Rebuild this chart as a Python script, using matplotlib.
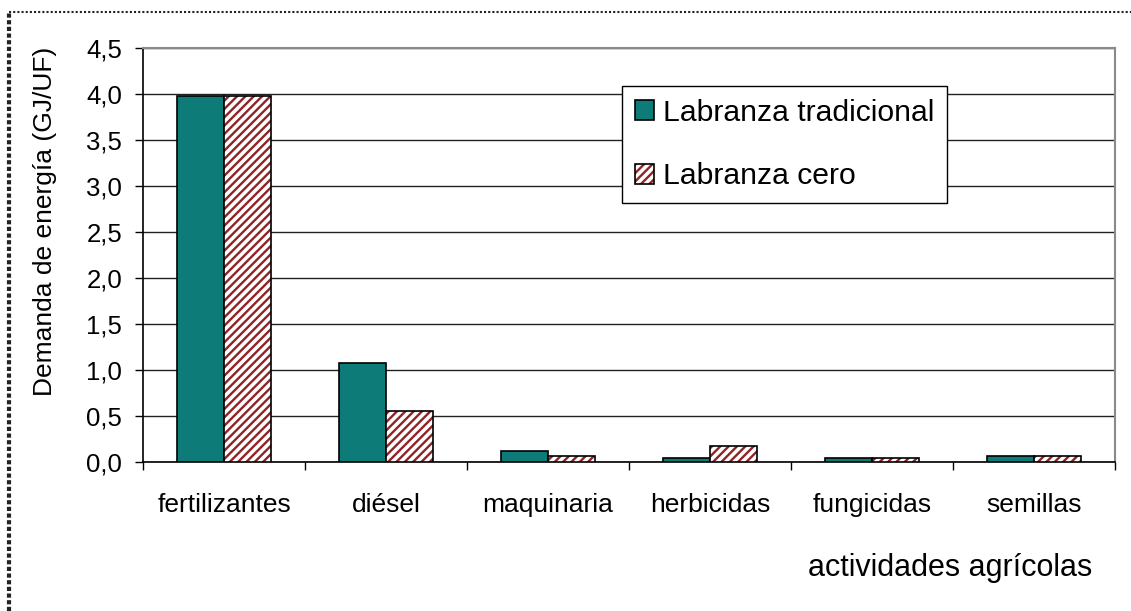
import numpy as np
import matplotlib
matplotlib.use("Agg")
import matplotlib.pyplot as plt
from matplotlib.lines import Line2D
from matplotlib.patches import Patch
from matplotlib.legend_handler import HandlerTuple

plt.rcParams['font.family'] = ['Liberation Sans', 'DejaVu Sans']
plt.rcParams['hatch.linewidth'] = 1.7

categorias = ['fertilizantes', 'diésel', 'maquinaria', 'herbicidas', 'fungicidas', 'semillas']
tradicional = [3.98, 1.08, 0.12, 0.05, 0.05, 0.07]
cero = [3.98, 0.56, 0.07, 0.18, 0.05, 0.07]
series = ['Labranza tradicional', 'Labranza cero']
yticks = [0.0, 0.5, 1.0, 1.5, 2.0, 2.5, 3.0, 3.5, 4.0, 4.5]

teal = '#0d7b78'
rojo = '#8f2427'

fig = plt.figure(figsize=(11.31, 6.11), dpi=100)
ax = fig.add_axes([143 / 1131, 1 - 462.3 / 611, 972 / 1131, 414.6 / 611])

x = np.arange(len(categorias))
w = 0.29
b1 = ax.bar(x - w / 2, tradicional, w, color=teal, edgecolor='black', linewidth=1.2, zorder=3)
ax.bar(x + w / 2, cero, w, color='white', edgecolor=rojo, hatch='////', linewidth=0, zorder=3)
ax.bar(x + w / 2, cero, w, fill=False, edgecolor='black', linewidth=1.2, zorder=4)

ax.set_xlim(-0.5, len(categorias) - 0.5)
ax.set_ylim(0, 4.5)
ax.set_yticks(yticks)
ax.set_yticklabels([('%.1f' % v).replace('.', ',') for v in yticks])
ax.set_xticks(x)
ax.set_xticklabels(categorias)
ax.set_xticks(np.arange(-0.5, len(categorias)), minor=True)
ax.tick_params(axis='x', which='major', length=0, pad=22, labelsize=19)
ax.tick_params(axis='x', which='minor', length=6, width=1, direction='out')
ax.tick_params(axis='y', length=6, width=1, direction='out', pad=9, labelsize=18.5)

ax.grid(axis='y', color='#222222', linewidth=1, zorder=0)
ax.set_axisbelow(True)
for s in ['left', 'bottom']:
    ax.spines[s].set_color('black')
    ax.spines[s].set_linewidth(1.2)
for s in ['top', 'right']:
    ax.spines[s].set_color('#8a8a8a')
    ax.spines[s].set_linewidth(1.5)

ax.set_ylabel('Demanda de energía (GJ/UF)', fontsize=19, va='center')
ax.yaxis.set_label_coords(-0.101, 0.58)
ax.set_xlabel('actividades agrícolas', fontsize=22, va='center')
ax.xaxis.set_label_coords(0.83, -0.255)

h_cero = (Patch(facecolor='white', edgecolor=rojo, hatch='////', linewidth=0),
          Patch(fill=False, edgecolor='black', linewidth=1.2))
leg = ax.legend([b1, h_cero], series, loc='upper left',
                bbox_to_anchor=(0.4928, 0.9076), borderaxespad=0,
                fontsize=21.7, frameon=True, fancybox=False, framealpha=1,
                edgecolor='black', borderpad=0.42, labelspacing=1.18,
                handlelength=0.64, handleheight=0.64, handletextpad=0.3,
                handler_map={tuple: HandlerTuple(ndivide=1, pad=0)})
leg.get_frame().set_linewidth(1)
leg.set_zorder(5)

# borde punteado del recuadro
fig.add_artist(Line2D([9 / 1131, 1], [1 - 12 / 611, 1 - 12 / 611], transform=fig.transFigure,
                      color='#222222', linewidth=1.5, linestyle=(0, (1, 1))))
fig.add_artist(Line2D([9 / 1131, 9 / 1131], [0, 1 - 12 / 611], transform=fig.transFigure,
                      color='#222222', linewidth=3, linestyle=(0, (1, 0.6))))

fig.savefig('out.png', dpi=100)
